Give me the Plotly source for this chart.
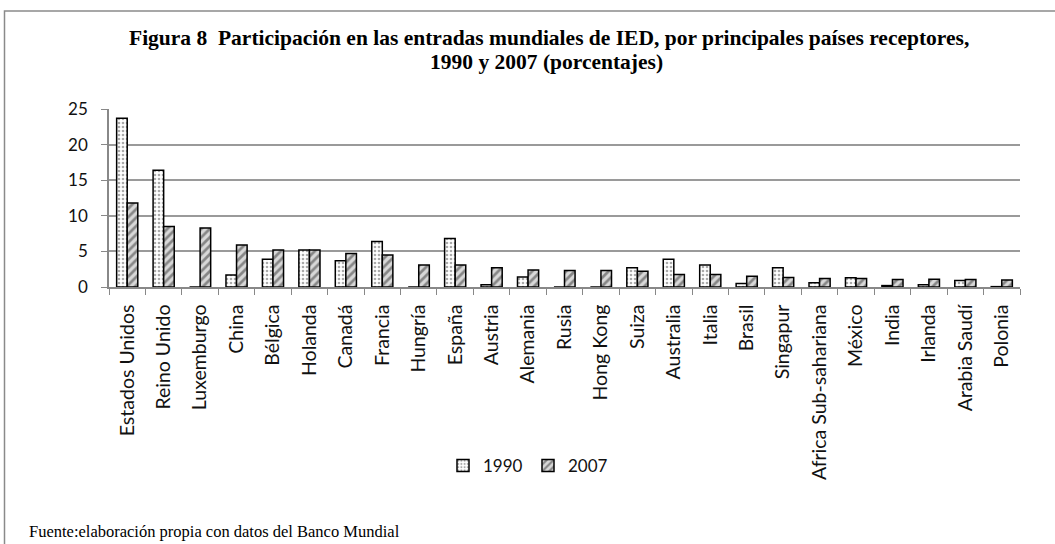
import plotly.graph_objects as go

countries = ["Estados Unidos", "Reino Unido", "Luxemburgo", "China", "Bélgica", "Holanda",
             "Canadá", "Francia", "Hungría", "España", "Austria", "Alemania", "Rusia",
             "Hong Kong", "Suiza", "Australia", "Italia", "Brasil", "Singapur",
             "Africa Sub-sahariana", "México", "India", "Irlanda", "Arabia Saudí", "Polonia"]
v1990 = [23.7, 16.4, 0.0, 1.7, 3.9, 5.2, 3.7, 6.4, 0.0, 6.8, 0.3, 1.4, 0.0, 0.0, 2.7,
         3.9, 3.1, 0.5, 2.7, 0.6, 1.3, 0.2, 0.3, 0.9, 0.05]
v2007 = [11.8, 8.5, 8.3, 5.9, 5.2, 5.2, 4.7, 4.5, 3.1, 3.1, 2.7, 2.4, 2.3, 2.3, 2.2,
         1.75, 1.75, 1.5, 1.35, 1.2, 1.2, 1.05, 1.1, 1.05, 1.0]
yticks = [0, 5, 10, 15, 20, 25]

title1 = "<b>Figura 8  Participación en las entradas mundiales de IED, por principales países receptores,</b>"
title2 = "<b>1990 y 2007 (porcentajes)</b>"
source = "Fuente:elaboración propia con datos del Banco Mundial"

W, H = 1055, 544
L, R, T, B = 109, 1020, 109, 287  # plot area in pixels


def px(x):
    return (x - L) / (R - L)


def py(y):
    return (B - y) / (B - T)


fig = go.Figure()
fig.add_trace(go.Bar(
    name="1990", x=countries, y=v1990,
    marker=dict(color="white", line=dict(color="black", width=1.5),
                pattern=dict(shape=".", fgcolor="#555555", bgcolor="white", size=4, solidity=0.35)),
))
fig.add_trace(go.Bar(
    name="2007", x=countries, y=v2007,
    marker=dict(color="white", line=dict(color="black", width=1.5),
                pattern=dict(shape="/", fgcolor="#333333", bgcolor="#d8d8d8", size=6, solidity=0.45)),
))

serif = "Liberation Serif, Times New Roman, serif"
fig.update_layout(
    width=W, height=H,
    margin=dict(l=L, r=W - R, t=T, b=H - B),
    paper_bgcolor="white", plot_bgcolor="white",
    barmode="group", bargap=0.42, bargroupgap=0,
    font=dict(family="Lato, Open Sans, sans-serif", size=17, color="#111111"),
    showlegend=True,
    legend=dict(orientation="h", x=px(528), y=py(466), xanchor="center", yanchor="middle",
                font=dict(size=17), itemwidth=30, entrywidth=40, traceorder="normal",
                tracegroupgap=0),
    xaxis=dict(tickangle=-90, showgrid=False, showline=True, linecolor="#888888", linewidth=1.5,
               ticks="outside", tickcolor="#888888", ticklen=6, tickson="boundaries",
               tickfont=dict(size=19.5), ticklabelstandoff=8),
    yaxis=dict(range=[0, 25], tickvals=yticks, showgrid=True, gridcolor="#9a9a9a", gridwidth=1.5,
               showline=True, linecolor="#888888", linewidth=1.5, ticks="outside",
               tickcolor="#888888", ticklen=6, zeroline=False, tickfont=dict(size=17),
               ticklabelstandoff=10),
    shapes=[dict(type="rect", xref="paper", yref="paper",
                 x0=px(4.5), x1=px(1062), y0=py(552), y1=py(11),
                 line=dict(color="#8a8a8a", width=1.5), fillcolor="rgba(0,0,0,0)", layer="below")],
    annotations=[
        dict(text=title1, xref="paper", yref="paper", x=px(549), y=py(37.5),
             xanchor="center", yanchor="middle", showarrow=False,
             font=dict(family=serif, size=21.5, color="black")),
        dict(text=title2, xref="paper", yref="paper", x=px(546), y=py(62),
             xanchor="center", yanchor="middle", showarrow=False,
             font=dict(family=serif, size=21.5, color="black")),
        dict(text=source, xref="paper", yref="paper", x=px(27), y=py(531),
             xanchor="left", yanchor="middle", showarrow=False,
             font=dict(family=serif, size=16.5, color="black")),
    ],
)

fig.write_html("out.html", config={"displayModeBar": False},
               post_script="document.body.style.margin='0';")
